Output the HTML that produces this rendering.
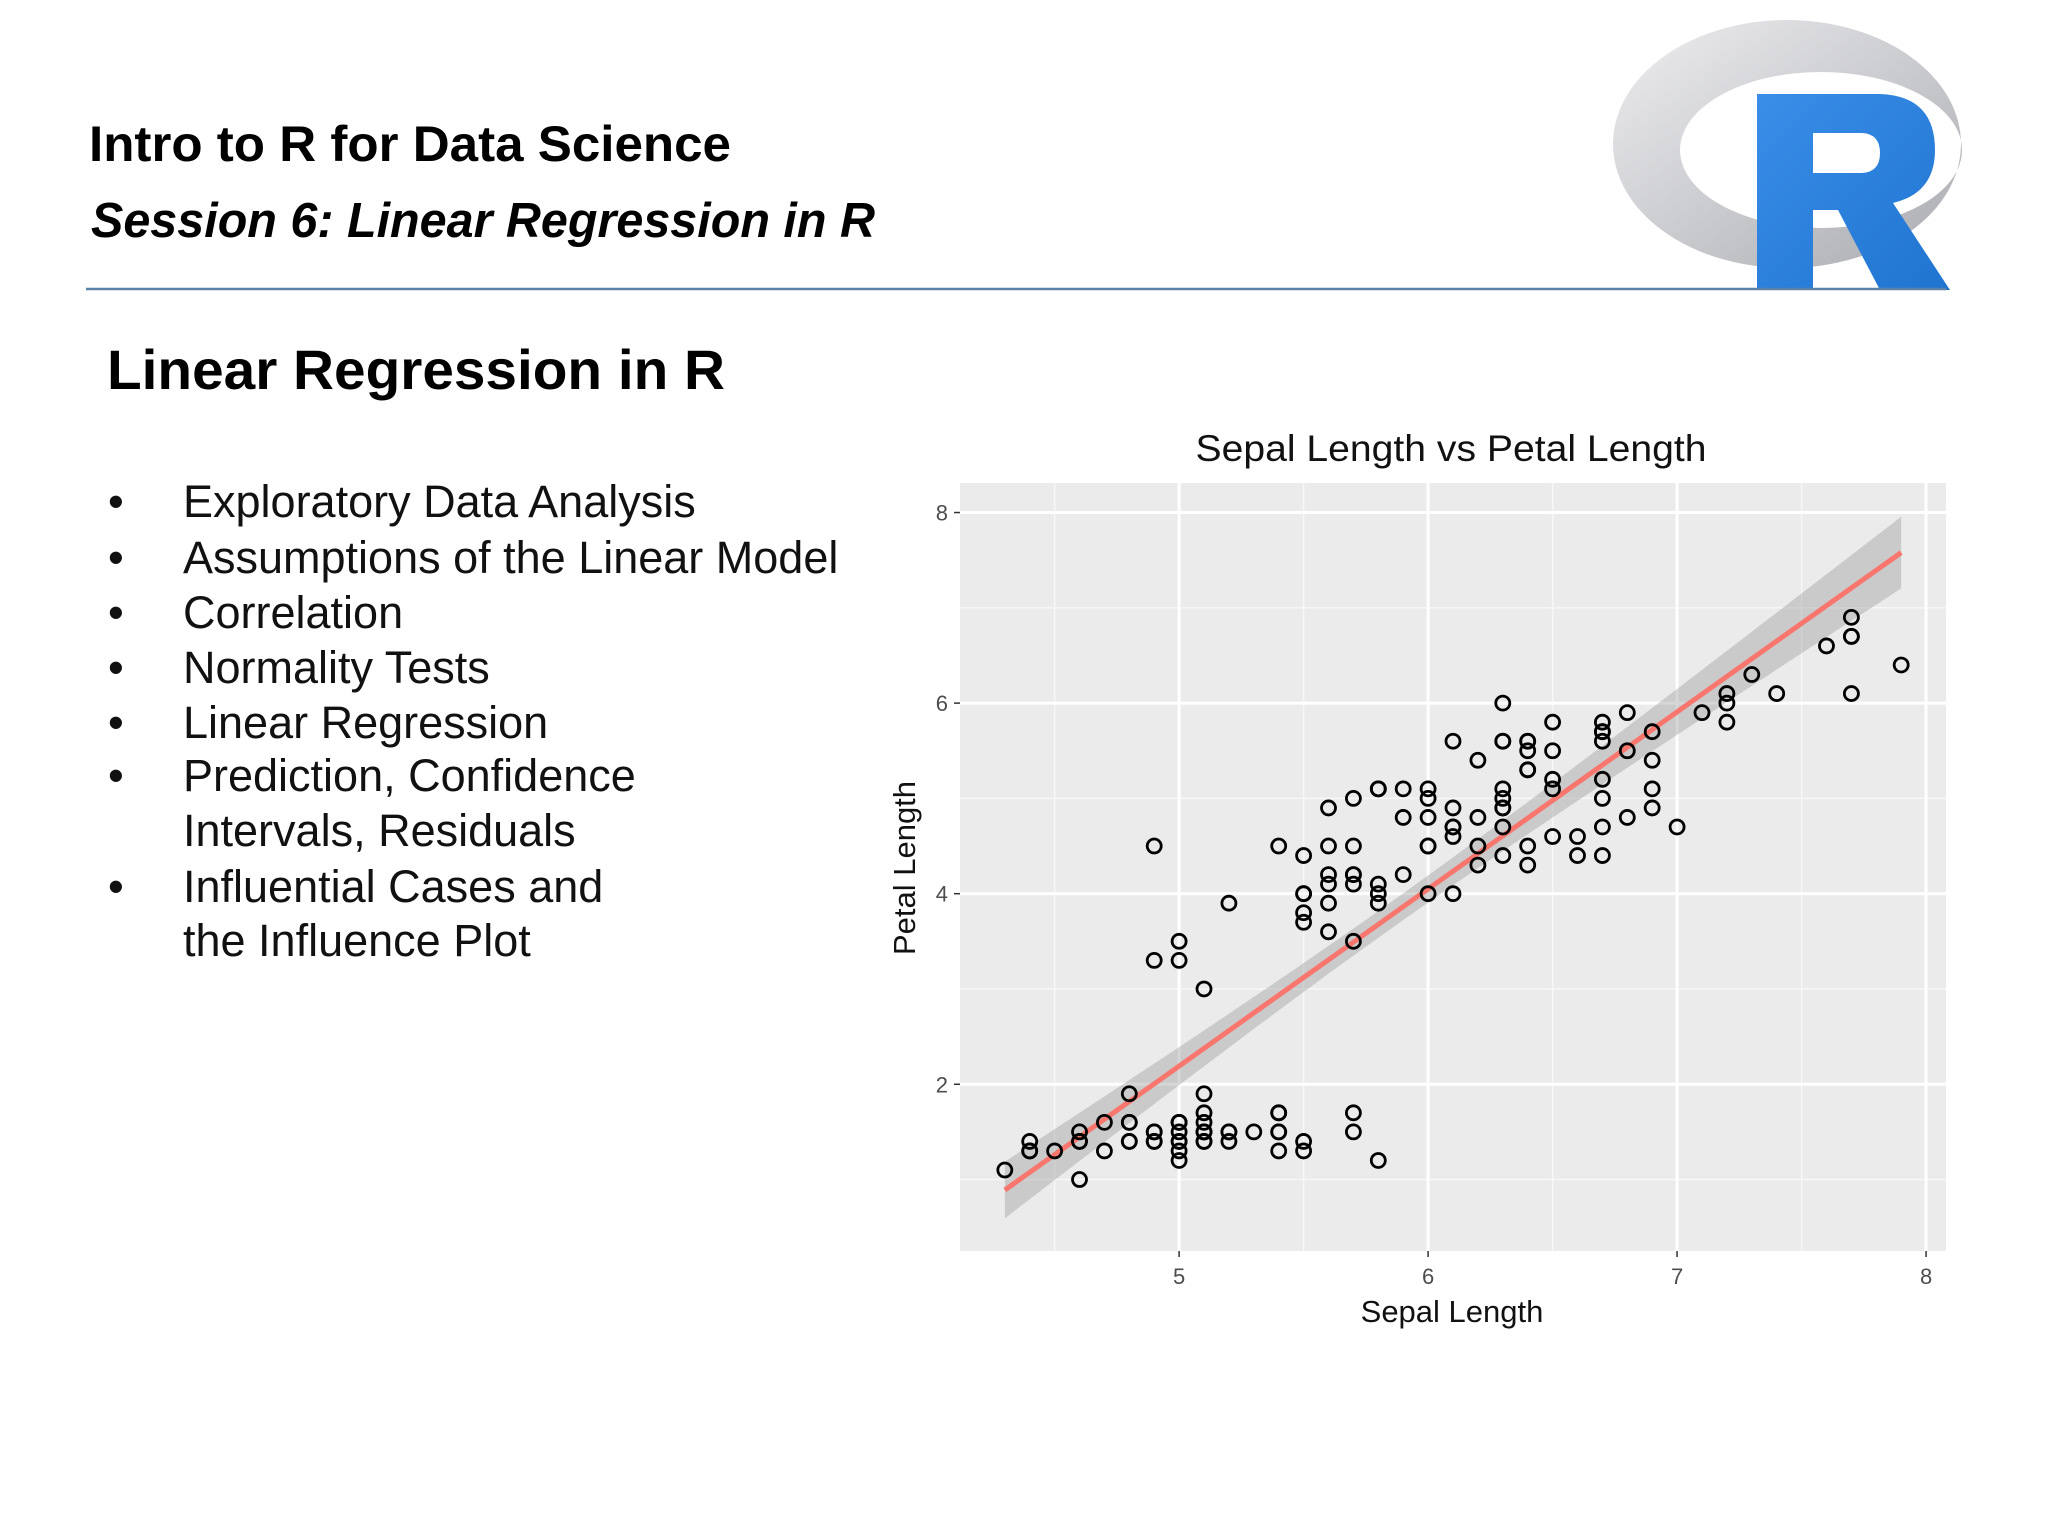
<!DOCTYPE html>
<html><head><meta charset="utf-8"><style>
html,body{margin:0;padding:0;background:#fff;}
svg{display:block;font-family:"Liberation Sans",Arial,sans-serif;}
</style></head><body>
<svg id="page" width="2048" height="1536" viewBox="0 0 2048 1536" xmlns="http://www.w3.org/2000/svg">
<defs>
<linearGradient id="ringG" x1="0" y1="0" x2="1" y2="1"><stop offset="0" stop-color="#eeeef0"/><stop offset="1" stop-color="#a9abb0"/></linearGradient>
<linearGradient id="rG" x1="0" y1="0" x2="1" y2="1"><stop offset="0" stop-color="#3a8ee8"/><stop offset="1" stop-color="#1f74d0"/></linearGradient>
</defs>
<g>
<path fill="url(#ringG)" fill-rule="evenodd" d="M1613,144 a174,124 0 1,0 348,0 a174,124 0 1,0 -348,0 Z M1680,150 a141,78 0 1,0 282,0 a141,78 0 1,0 -282,0 Z"/>
<path fill="url(#rG)" d="M1757,94 L1880,94 Q1935,96 1935,150 Q1935,193 1893,203 L1950,290 L1880,290 L1838,210 L1813,210 L1813,290 L1757,290 Z M1813,133 L1813,173 L1862,173 Q1880,172 1880,153 Q1880,134 1862,133 Z"/>
</g>
<text x="89" y="161" font-size="50" font-weight="bold" textLength="642" lengthAdjust="spacingAndGlyphs">Intro to R for Data Science</text>
<text x="91" y="237" font-size="49" font-weight="bold" font-style="italic" textLength="784" lengthAdjust="spacingAndGlyphs">Session 6: Linear Regression in R</text>
<line x1="86" y1="289" x2="1946" y2="289" stroke="#5b82a8" stroke-width="2.5"/>
<text x="107" y="389" font-size="56" font-weight="bold" textLength="618" lengthAdjust="spacingAndGlyphs">Linear Regression in R</text>
<g font-size="45" fill="#111">
<text x="108" y="517">•</text><text x="183" y="517">Exploratory Data Analysis</text>
<text x="108" y="573">•</text><text x="183" y="573">Assumptions of the Linear Model</text>
<text x="108" y="628">•</text><text x="183" y="628">Correlation</text>
<text x="108" y="683">•</text><text x="183" y="683">Normality Tests</text>
<text x="108" y="738">•</text><text x="183" y="738">Linear Regression</text>
<text x="108" y="791">•</text><text x="183" y="791">Prediction, Confidence</text>
<text x="183" y="846">Intervals, Residuals</text>
<text x="108" y="902">•</text><text x="183" y="902">Influential Cases and</text>
<text x="183" y="956">the Influence Plot</text>
</g>
<g id="chart"></g>
</svg>
<script>
const sepalLength = [5.1,4.9,4.7,4.6,5.0,5.4,4.6,5.0,4.4,4.9,5.4,4.8,4.8,4.3,5.8,5.7,5.4,5.1,5.7,5.1,5.4,5.1,4.6,5.1,4.8,5.0,5.0,5.2,5.2,4.7,4.8,5.4,5.2,5.5,4.9,5.0,5.5,4.9,4.4,5.1,5.0,4.5,4.4,5.0,5.1,4.8,5.1,4.6,5.3,5.0,
7.0,6.4,6.9,5.5,6.5,5.7,6.3,4.9,6.6,5.2,5.0,5.9,6.0,6.1,5.6,6.7,5.6,5.8,6.2,5.6,5.9,6.1,6.3,6.1,6.4,6.6,6.8,6.7,6.0,5.7,5.5,5.5,5.8,6.0,5.4,6.0,6.7,6.3,5.6,5.5,5.5,6.1,5.8,5.0,5.6,5.7,5.7,6.2,5.1,5.7,
6.3,5.8,7.1,6.3,6.5,7.6,4.9,7.3,6.7,7.2,6.5,6.4,6.8,5.7,5.8,6.4,6.5,7.7,7.7,6.0,6.9,5.6,7.7,6.3,6.7,7.2,6.2,6.1,6.4,7.2,7.4,7.9,6.4,6.3,6.1,7.7,6.3,6.4,6.0,6.9,6.7,6.9,5.8,6.8,6.7,6.7,6.3,6.5,6.2,5.9];
const petalLength = [1.4,1.4,1.3,1.5,1.4,1.7,1.4,1.5,1.4,1.5,1.5,1.6,1.4,1.1,1.2,1.5,1.3,1.4,1.7,1.5,1.7,1.5,1.0,1.7,1.9,1.6,1.6,1.5,1.4,1.6,1.6,1.5,1.5,1.4,1.5,1.2,1.3,1.4,1.3,1.5,1.3,1.3,1.3,1.6,1.9,1.4,1.6,1.4,1.5,1.4,
4.7,4.5,4.9,4.0,4.6,4.5,4.7,3.3,4.6,3.9,3.5,4.2,4.0,4.7,3.6,4.4,4.5,4.1,4.5,3.9,4.8,4.0,4.9,4.7,4.3,4.4,4.8,5.0,4.5,3.5,3.8,3.7,3.9,5.1,4.5,4.5,4.7,4.4,4.1,4.0,4.4,4.6,4.0,3.3,4.2,4.2,4.2,4.3,3.0,4.1,
6.0,5.1,5.9,5.6,5.8,6.6,4.5,6.3,5.8,6.1,5.1,5.3,5.5,5.0,5.1,5.3,5.5,6.7,6.9,5.0,5.7,4.9,6.7,4.9,5.7,6.0,4.8,4.9,5.6,5.8,6.1,6.4,5.6,5.1,5.6,6.1,5.6,5.5,4.8,5.4,5.6,5.1,5.1,5.9,5.7,5.2,5.0,5.2,5.4,5.1];
const xTicks = [5,6,7,8];
const yTicks = [2,4,6,8];

const NS = "http://www.w3.org/2000/svg";
const chart = document.getElementById('chart');
const P = {l:960, r:1946, t:483, b:1251};
const xMin = 4.12, xMax = 8.08, yMin = 0.25, yMax = 8.31;
const sx = v => P.l + (v - xMin) / (xMax - xMin) * (P.r - P.l);
const sy = v => P.b - (v - yMin) / (yMax - yMin) * (P.b - P.t);
function mk(tag, attrs, parent) {
  const e = document.createElementNS(NS, tag);
  for (const k in attrs) e.setAttribute(k, attrs[k]);
  (parent || chart).appendChild(e);
  return e;
}
let e = mk('rect', {x:P.l, y:P.t, width:P.r-P.l, height:P.b-P.t, fill:'#ebebeb'});


for (let v = 4.5; v <= 8; v += 1) {
  e = mk('line', {x1:sx(v), x2:sx(v), y1:P.t, y2:P.b, stroke:'#f7f7f7', 'stroke-width':1.5});
  
  
}
for (let v = 1; v <= 8; v += 2) {
  e = mk('line', {x1:P.l, x2:P.r, y1:sy(v), y2:sy(v), stroke:'#f7f7f7', 'stroke-width':1.5});
  
  
}
xTicks.forEach(v => {
  e = mk('line', {x1:sx(v), x2:sx(v), y1:P.t, y2:P.b, stroke:'#fff', 'stroke-width':3});
  
  
  e = mk('line', {x1:sx(v), x2:sx(v), y1:P.b, y2:P.b+6, stroke:'#333', 'stroke-width':1.5});
  
  
  e = mk('text', {x:sx(v), y:P.b+33, 'font-size':22, fill:'#4d4d4d', 'text-anchor':'middle'});
  e.textContent = v;
  
  
});
yTicks.forEach(v => {
  e = mk('line', {x1:P.l, x2:P.r, y1:sy(v), y2:sy(v), stroke:'#fff', 'stroke-width':3});
  
  
  e = mk('line', {x1:P.l-6, x2:P.l, y1:sy(v), y2:sy(v), stroke:'#333', 'stroke-width':1.5});
  
  
  e = mk('text', {x:P.l-12, y:sy(v)+8, 'font-size':22, fill:'#4d4d4d', 'text-anchor':'end'});
  e.textContent = v;
  
  
});
const n = sepalLength.length;
const mx = sepalLength.reduce((a,b)=>a+b,0)/n, my = petalLength.reduce((a,b)=>a+b,0)/n;
let sxx = 0, sxy = 0;
for (let i=0;i<n;i++){ sxx += (sepalLength[i]-mx)**2; sxy += (sepalLength[i]-mx)*(petalLength[i]-my); }
const slope = sxy/sxx, icpt = my - slope*mx;
let sse = 0;
for (let i=0;i<n;i++){ sse += (petalLength[i]-icpt-slope*sepalLength[i])**2; }
const s = Math.sqrt(sse/(n-2));
const x0 = Math.min(...sepalLength), x1 = Math.max(...sepalLength);
const up = [], lo = [];
for (let k=0;k<=40;k++){
  const xv = x0 + (x1-x0)*k/40, f = icpt + slope*xv;
  const se = 1.976*s*Math.sqrt(1/n + (xv-mx)**2/sxx);
  up.push(sx(xv)+','+sy(f+se)); lo.unshift(sx(xv)+','+sy(f-se));
}
e = mk('polygon', {points: up.concat(lo).join(' '), fill:'#999', 'fill-opacity':0.4});


e = mk('line', {x1:sx(x0), y1:sy(icpt+slope*x0), x2:sx(x1), y2:sy(icpt+slope*x1), stroke:'#f8766d', 'stroke-width':5});


for (let i=0;i<n;i++){
  e = mk('circle', {cx:sx(sepalLength[i]), cy:sy(petalLength[i]), r:7, fill:'none', stroke:'#000', 'stroke-width':2.8});
  
  
}
e = mk('text', {x:1451, y:461, 'font-size':37, fill:'#111', 'text-anchor':'middle', textLength:511, lengthAdjust:'spacingAndGlyphs'});
e.textContent = 'Sepal Length vs Petal Length';


e = mk('text', {x:1452, y:1322, 'font-size':31, fill:'#111', 'text-anchor':'middle'});
e.textContent = 'Sepal Length';


e = mk('text', {x:915, y:868, 'font-size':31, fill:'#111', 'text-anchor':'middle', transform:'rotate(-90 915 868)'});
e.textContent = 'Petal Length';


</script>
</body></html>
